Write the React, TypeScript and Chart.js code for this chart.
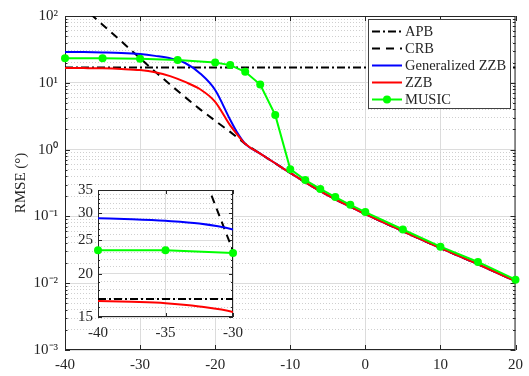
import React, { useEffect, useRef } from 'react';
import { Chart, registerables } from 'chart.js';
Chart.register(...registerables);

const FONT_FAMILY = "'Liberation Serif', 'Times New Roman', Times, serif";
const INK = '#262626';

// ---------------- data ----------------
const snrBounds = [-40, -37.5, -35, -32.5, -30, -28, -26, -24, -22, -20, -18, -17, -16, -14, -12, -10, -8, -6, -4, -2, 0, 5, 10, 15, 20];
const gzzbRmse = [29.0, 28.8, 28.5, 28.0, 26.9, 25.3, 23.3, 19.8, 13.8, 7.8, 2.8, 1.75, 1.22, 0.87, 0.624, 0.447, 0.324, 0.239, 0.18, 0.14, 0.108, 0.06, 0.0335, 0.0192, 0.0107];
const zzbRmse = [16.7, 16.6, 16.45, 16.1, 15.5, 14.4, 12.6, 10.3, 8.0, 5.2, 2.3, 1.65, 1.22, 0.87, 0.624, 0.447, 0.324, 0.239, 0.18, 0.14, 0.108, 0.06, 0.0335, 0.0192, 0.0107];

const crbSnr = [-38, -35, -32.5, -30, -28, -26, -24, -22, -20, -18, -17, -16, -14, -12, -10, -8, -6, -4, -2, 0, 5, 10, 15, 20];
const crbRmse = [148, 74, 41.7, 23.3, 14.7, 9.4, 6.1, 4.0, 2.7, 1.84, 1.5, 1.22, 0.87, 0.624, 0.447, 0.324, 0.239, 0.18, 0.14, 0.108, 0.06, 0.0335, 0.0192, 0.0107];

const apbSnr = [-40, 20];
const apbRmse = [16.9, 16.9];

const musicSnr = [-40, -35, -30, -25, -20, -18, -16, -14, -12, -10, -8, -6, -4, -2, 0, 5, 10, 15, 20];
const musicRmse = [23.4, 23.4, 23.0, 21.9, 20.1, 18.4, 14.6, 9.4, 3.3, 0.51, 0.35, 0.258, 0.195, 0.149, 0.116, 0.0637, 0.0352, 0.0208, 0.0113];

const seriesLabels = ['APB', 'CRB', 'Generalized ZZB', 'ZZB', 'MUSIC'];

// ticks
const mainXTicks = [-40, -30, -20, -10, 0, 10, 20];
const mainYExponents = [-3, -2, -1, 0, 1, 2];
const insetXTicks = [-40, -35, -30];
const insetYLabels = [15, 20, 25, 30, 35];

const SUP: Record<string, string> = { '-': '⁻', '0': '⁰', '1': '¹', '2': '²', '3': '³', '4': '⁴' };
const sup = (n: number) => String(n).split('').map((c) => SUP[c]).join('');

const mainYTickValues: number[] = [];
for (let e = mainYExponents[0]; e < mainYExponents[mainYExponents.length - 1]; e++) {
  for (let m = 1; m <= 9; m++) mainYTickValues.push(Number((m * Math.pow(10, e)).toPrecision(6)));
}
mainYTickValues.push(Math.pow(10, mainYExponents[mainYExponents.length - 1]));

const insetYTickValues: number[] = [];
for (let v = insetYLabels[0]; v <= insetYLabels[insetYLabels.length - 1]; v++) insetYTickValues.push(v);

const isDecade = (v: number) => {
  const l = Math.log10(v);
  return Math.abs(l - Math.round(l)) < 1e-6;
};
const isInsetLabel = (v: number) => insetYLabels.includes(Math.round(v * 1000) / 1000);

const pts = (xs: number[], ys: number[], range?: [number, number]) =>
  xs
    .map((x, i) => ({ x, y: ys[i] }))
    .filter((p) => !range || (p.x >= range[0] && p.x <= range[1]));

function makeDatasets(musicRange?: [number, number]) {
  return [
    {
      label: seriesLabels[0],
      data: pts(apbSnr, apbRmse),
      borderColor: '#000000',
      borderWidth: 2,
      borderDash: [8, 3, 2, 3],
      pointRadius: 0,
      order: 4,
    },
    {
      label: seriesLabels[1],
      data: pts(crbSnr, crbRmse),
      borderColor: '#000000',
      borderWidth: 2,
      borderDash: [8, 6],
      pointRadius: 0,
      order: 3,
    },
    {
      label: seriesLabels[2],
      data: pts(snrBounds, gzzbRmse),
      borderColor: '#0000ff',
      borderWidth: 2,
      pointRadius: 0,
      cubicInterpolationMode: 'monotone',
      order: 2,
    },
    {
      label: seriesLabels[3],
      data: pts(snrBounds, zzbRmse),
      borderColor: '#ff0000',
      borderWidth: 2,
      pointRadius: 0,
      cubicInterpolationMode: 'monotone',
      order: 1,
    },
    {
      label: seriesLabels[4],
      data: pts(musicSnr, musicRmse, musicRange),
      borderColor: '#00ff00',
      backgroundColor: '#00ff00',
      borderWidth: 2,
      pointRadius: 4,
      pointBackgroundColor: '#00ff00',
      pointBorderColor: '#00ff00',
      pointBorderWidth: 0,
      clip: false,
      order: 0,
    },
  ];
}

function framePlugin(isMajorY: (v: number) => boolean, majorLen: number, minorLen: number) {
  return {
    id: 'frame',
    beforeDatasetsDraw(chart: any) {
      const { ctx, chartArea } = chart;
      const { left, right, top, bottom } = chartArea;
      const xs = chart.scales.x;
      const ys = chart.scales.y;
      ctx.save();
      ctx.strokeStyle = INK;
      ctx.lineWidth = 1;
      ctx.setLineDash([]);
      ctx.beginPath();
      for (const t of xs.ticks) {
        const px = Math.round(xs.getPixelForValue(t.value)) + 0.5;
        ctx.moveTo(px, bottom);
        ctx.lineTo(px, bottom - majorLen);
        ctx.moveTo(px, top);
        ctx.lineTo(px, top + majorLen);
      }
      for (const t of ys.ticks) {
        const py = Math.round(ys.getPixelForValue(t.value)) + 0.5;
        const len = isMajorY(t.value) ? majorLen : minorLen;
        ctx.moveTo(left, py);
        ctx.lineTo(left + len, py);
        ctx.moveTo(right, py);
        ctx.lineTo(right - len, py);
      }
      ctx.stroke();
      ctx.strokeRect(left + 0.5, top + 0.5, right - left - 1, bottom - top - 1);
      ctx.restore();
    },
  };
}

const whiteAreaPlugin = {
  id: 'whiteArea',
  beforeDraw(chart: any) {
    const { ctx, chartArea } = chart;
    ctx.save();
    ctx.fillStyle = '#ffffff';
    ctx.fillRect(chartArea.left, chartArea.top, chartArea.right - chartArea.left, chartArea.bottom - chartArea.top);
    ctx.restore();
  },
};

const legendPlugin = {
  id: 'customLegend',
  afterDraw(chart: any) {
    const { ctx } = chart;
    const x0 = 368;
    const y0 = 19;
    const w = 143;
    const h = 90;
    ctx.save();
    ctx.fillStyle = '#ffffff';
    ctx.fillRect(x0, y0, w, h);
    ctx.strokeStyle = '#404040';
    ctx.lineWidth = 1;
    ctx.setLineDash([]);
    ctx.strokeRect(x0 + 0.5, y0 + 0.5, w - 1, h - 1);
    ctx.font = `14.5px ${FONT_FAMILY}`;
    ctx.textBaseline = 'middle';
    ctx.textAlign = 'left';
    chart.data.datasets.forEach((ds: any, i: number) => {
      const cy = Math.round(30.7 + i * 17.15) + 0.5;
      ctx.strokeStyle = ds.borderColor;
      ctx.lineWidth = ds.borderWidth;
      ctx.setLineDash(ds.borderDash || []);
      ctx.beginPath();
      ctx.moveTo(372, cy);
      ctx.lineTo(402, cy);
      ctx.stroke();
      ctx.setLineDash([]);
      if (ds.pointRadius > 0) {
        ctx.fillStyle = ds.pointBackgroundColor;
        ctx.beginPath();
        ctx.arc(387, cy, ds.pointRadius, 0, Math.PI * 2);
        ctx.fill();
      }
      ctx.fillStyle = INK;
      ctx.fillText(ds.label, 405, cy + 1);
    });
    ctx.restore();
  },
};

export default function App() {
  const mainRef = useRef<HTMLCanvasElement | null>(null);
  const insetRef = useRef<HTMLCanvasElement | null>(null);

  useEffect(() => {
    const tickFont = { family: FONT_FAMILY, size: 15 };
    const main = new Chart(mainRef.current as HTMLCanvasElement, {
      type: 'line',
      data: { datasets: makeDatasets() as any },
      options: {
        animation: false,
        responsive: false,
        maintainAspectRatio: false,
        layout: { padding: { left: 0, right: 10, top: 10, bottom: 0 } },
        plugins: { legend: { display: false }, tooltip: { enabled: false } },
        elements: { line: { fill: false, tension: 0 } },
        scales: {
          x: {
            type: 'linear',
            min: mainXTicks[0],
            max: mainXTicks[mainXTicks.length - 1],
            afterBuildTicks: (s: any) => {
              s.ticks = mainXTicks.map((v) => ({ value: v }));
            },
            ticks: { font: tickFont, color: INK, padding: 6, maxRotation: 0, autoSkip: false },
            grid: { color: '#dcdcdc', lineWidth: 1, drawTicks: false },
            border: { display: false },
            afterFit: (s: any) => {
              s.height = 26;
            },
          },
          y: {
            type: 'logarithmic',
            min: Math.pow(10, mainYExponents[0]),
            max: Math.pow(10, mainYExponents[mainYExponents.length - 1]),
            afterBuildTicks: (s: any) => {
              s.ticks = mainYTickValues.map((v) => ({ value: v }));
            },
            ticks: {
              font: tickFont,
              color: INK,
              padding: 7,
              autoSkip: false,
              callback: (v: any) => (isDecade(Number(v)) ? '10' + sup(Math.round(Math.log10(Number(v)))) : ''),
            },
            grid: {
              color: (c: any) => (c.tick && isDecade(c.tick.value) ? '#dcdcdc' : '#cfcfcf'),
              lineWidth: 1,
              drawTicks: false,
            },
            border: {
              display: false,
              dash: (c: any) => (c.tick && !isDecade(c.tick.value) ? [1, 2] : []),
            },
            title: {
              display: true,
              text: 'RMSE (°)',
              font: { family: FONT_FAMILY, size: 15 },
              color: INK,
              padding: { top: 12, bottom: 0 },
            },
            afterFit: (s: any) => {
              s.width = 65;
            },
          },
        },
      } as any,
      plugins: [framePlugin(isDecade, 5, 2.5), legendPlugin],
    });

    const inset = new Chart(insetRef.current as HTMLCanvasElement, {
      type: 'line',
      data: { datasets: makeDatasets([insetXTicks[0], insetXTicks[insetXTicks.length - 1]]) as any },
      options: {
        animation: false,
        responsive: false,
        maintainAspectRatio: false,
        layout: { padding: { left: 0, right: 16, top: 12, bottom: 0 } },
        plugins: { legend: { display: false }, tooltip: { enabled: false } },
        elements: { line: { fill: false, tension: 0 } },
        scales: {
          x: {
            type: 'linear',
            min: insetXTicks[0],
            max: insetXTicks[insetXTicks.length - 1],
            afterBuildTicks: (s: any) => {
              s.ticks = insetXTicks.map((v) => ({ value: v }));
            },
            ticks: { font: tickFont, color: INK, padding: 7, maxRotation: 0, autoSkip: false },
            grid: { color: '#dcdcdc', lineWidth: 1, drawTicks: false },
            border: { display: false },
            afterFit: (s: any) => {
              s.height = 24;
            },
          },
          y: {
            type: 'logarithmic',
            min: insetYLabels[0],
            max: insetYLabels[insetYLabels.length - 1],
            afterBuildTicks: (s: any) => {
              s.ticks = insetYTickValues.map((v) => ({ value: v }));
            },
            ticks: {
              font: tickFont,
              color: INK,
              padding: 5,
              autoSkip: false,
              callback: (v: any) => (isInsetLabel(Number(v)) ? String(v) : ''),
            },
            grid: {
              color: (c: any) => (c.tick && isInsetLabel(c.tick.value) ? '#dcdcdc' : '#cfcfcf'),
              lineWidth: 1,
              drawTicks: false,
            },
            border: {
              display: false,
              dash: (c: any) => (c.tick && !isInsetLabel(c.tick.value) ? [1, 2] : []),
            },
            afterFit: (s: any) => {
              s.width = 40;
            },
          },
        },
      } as any,
      plugins: [whiteAreaPlugin, framePlugin(isInsetLabel, 4, 2)],
    });

    return () => {
      main.destroy();
      inset.destroy();
    };
  }, []);

  return (
    <div style={{ position: 'absolute', left: 0, top: 0, width: 529, height: 376, background: '#ffffff', overflow: 'hidden' }}>
      <canvas
        ref={mainRef}
        width={529}
        height={376}
        style={{ position: 'absolute', left: 0, top: 0, width: 529, height: 376 }}
      />
      <canvas
        ref={insetRef}
        width={192}
        height={165}
        style={{ position: 'absolute', left: 58, top: 176, width: 192, height: 165 }}
      />
    </div>
  );
}
